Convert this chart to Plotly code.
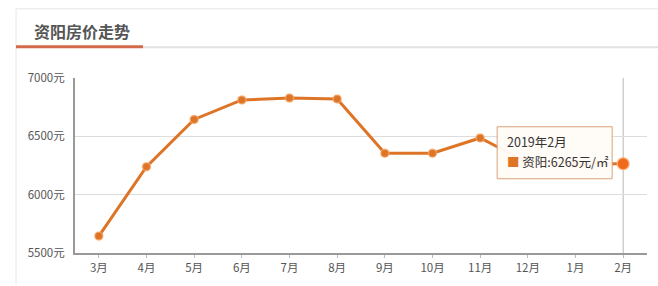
import plotly.graph_objects as go

months = ["3月", "4月", "5月", "6月", "7月", "8月", "9月", "10月", "11月", "12月", "1月", "2月"]
prices = [5645, 6240, 6645, 6812, 6828, 6820, 6356, 6356, 6486, 6275, 6262, 6265]
y_ticks = [5500, 6000, 6500, 7000]
y_tick_labels = [f"{v}元" for v in y_ticks]
title_text = "资阳房价走势"
tip_title = "2019年2月"
tip_series = "资阳"

W, H = 658, 286
ML, MR, MT, MB = 75, 11, 78, 31
PW = W - ML - MR
PH = H - MT - MB

def px_x(px):
    return (px - ML) / PW

def px_y(py):
    return (H - MB - py) / PH

FONT = "Noto Sans CJK SC, Open Sans, sans-serif"
ORANGE = "#dd7426"

fig = go.Figure()
fig.add_trace(go.Scatter(
    x=months, y=prices, mode="lines+markers",
    line=dict(color=ORANGE, width=3),
    marker=dict(size=8, color=ORANGE, line=dict(color="rgba(245,170,110,0.7)", width=1.5)),
    hoverinfo="skip", showlegend=False, cliponaxis=False,
))
fig.add_trace(go.Scatter(
    x=[months[-1]], y=[prices[-1]], mode="markers",
    marker=dict(size=12, color="#f06a1e", line=dict(color="rgba(255,180,130,0.8)", width=1.5)),
    hoverinfo="skip", showlegend=False, cliponaxis=False,
))

shapes = []
shapes.append(dict(type="line", xref="paper", yref="paper", x0=px_x(16), x1=px_x(W), y0=px_y(8), y1=px_y(8),
                   line=dict(color="#e6e6e6", width=1)))
shapes.append(dict(type="line", xref="paper", yref="paper", x0=px_x(16), x1=px_x(16), y0=px_y(8), y1=px_y(H),
                   line=dict(color="#e6e6e6", width=1)))
shapes.append(dict(type="line", xref="paper", yref="paper", x0=px_x(143), x1=px_x(W), y0=px_y(47), y1=px_y(47),
                   line=dict(color="#e2e2e2", width=2)))
shapes.append(dict(type="line", xref="paper", yref="paper", x0=px_x(16), x1=px_x(143), y0=px_y(46.5), y1=px_y(46.5),
                   line=dict(color="#d26a4a", width=3)))
shapes.append(dict(type="line", xref="x", yref="paper", x0=months[-1], x1=months[-1], y0=0, y1=1,
                   line=dict(color="#b8b8b8", width=1), layer="below"))
# tooltip box anchored to the last point (pixel offsets)
shapes.append(dict(type="rect", xref="x", yref="y", xsizemode="pixel", ysizemode="pixel",
                   xanchor=months[-1], yanchor=prices[-1],
                   x0=-126, x1=-11, y0=-15, y1=37,
                   fillcolor="rgba(255,251,246,0.96)", line=dict(color="#d9a27a", width=1), layer="above"))

annotations = [
    dict(text=f"<b>{title_text}</b>", xref="paper", yref="paper", x=px_x(32), y=px_y(30),
         xanchor="left", yanchor="middle", showarrow=False,
         font=dict(family=FONT, size=16, color="#555555")),
    dict(text=tip_title, xref="x", yref="y", x=months[-1], y=prices[-1],
         xanchor="left", yanchor="middle", xshift=-118, yshift=22, showarrow=False,
         font=dict(family=FONT, size=12.5, color="#333333")),
    dict(text=f"<span style='color:{ORANGE}'>■</span> {tip_series}:{prices[-1]}元/㎡",
         xref="x", yref="y", x=months[-1], y=prices[-1],
         xanchor="left", yanchor="middle", xshift=-118, yshift=2, showarrow=False,
         font=dict(family=FONT, size=12.5, color="#333333")),
]

fig.update_layout(
    width=W, height=H,
    margin=dict(l=ML, r=MR, t=MT, b=MB, pad=0),
    paper_bgcolor="white", plot_bgcolor="white",
    font=dict(family=FONT, size=11.5, color="#555555"),
    shapes=shapes, annotations=annotations,
    xaxis=dict(type="category", range=[-0.5, len(months) - 0.5], showgrid=False,
               showline=True, linecolor="#999999", linewidth=2,
               ticks="outside", ticklen=3, tickcolor="#bbbbbb", tickwidth=1,
               tickfont=dict(family=FONT, size=11.5, color="#555555"), fixedrange=True),
    yaxis=dict(range=[5500, 7000], tickvals=y_ticks, ticktext=y_tick_labels,
               showgrid=True, gridcolor="#dcdcdc", gridwidth=1,
               showline=True, linecolor="#999999", linewidth=2, zeroline=False,
               ticks="", ticklabelstandoff=6,
               tickfont=dict(family=FONT, size=11.5, color="#555555"), fixedrange=True),
)

fig.write_html("out.html", config={"displayModeBar": False})
